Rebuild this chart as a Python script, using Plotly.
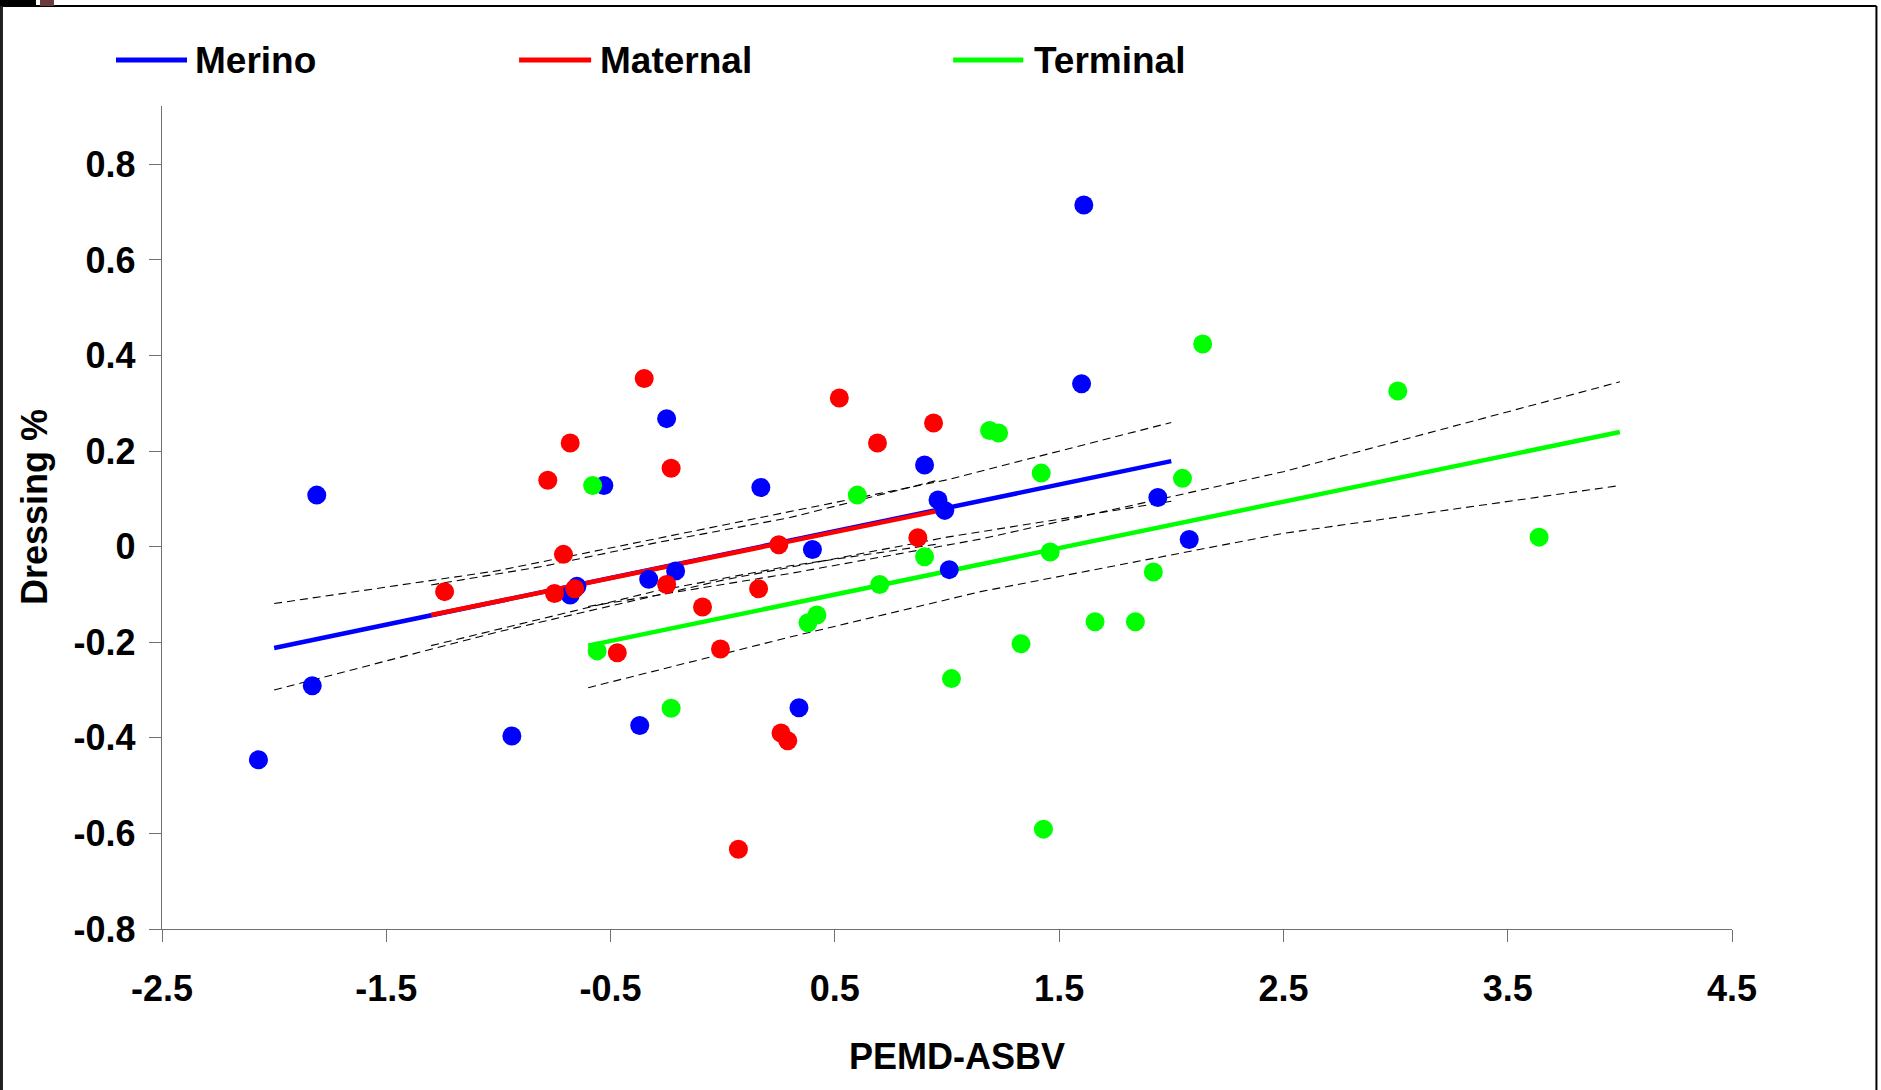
import plotly.graph_objects as go

# ---- data -------------------------------------------------------------
merino_x = [-2.07, -1.81, -1.83, -0.94, -0.68, -0.65, -0.53, -0.37, -0.33, -0.25, -0.21,
            0.17, 0.34, 0.40, 0.90, 0.96, 0.99, 1.01, 1.61, 1.60, 1.94, 2.08]
merino_y = [-0.446, 0.108, -0.291, -0.396, -0.101, -0.083, 0.128, -0.374, -0.068, 0.268, -0.051,
            0.124, -0.337, -0.006, 0.171, 0.098, 0.076, -0.048, 0.715, 0.341, 0.103, 0.015]

maternal_x = [-1.24, -0.78, -0.71, -0.75, -0.68, -0.66, -0.47, -0.35, -0.25, -0.23, -0.09,
              -0.01, 0.07, 0.16, 0.25, 0.26, 0.29, 0.52, 0.69, 0.87, 0.94]
maternal_y = [-0.094, 0.139, -0.016, -0.098, 0.217, -0.088, -0.222, 0.352, -0.079, 0.164, -0.126,
              -0.214, -0.633, -0.088, 0.004, -0.390, -0.406, 0.311, 0.217, 0.019, 0.259]

terminal_x = [-0.58, -0.56, -0.23, 0.38, 0.42, 0.60, 0.70, 0.90, 1.02, 1.19, 1.23,
              1.33, 1.42, 1.43, 1.46, 1.66, 1.84, 1.92, 2.05, 2.14, 3.01, 3.64]
terminal_y = [0.128, -0.218, -0.338, -0.159, -0.143, 0.108, -0.079, -0.021, -0.276, 0.243, 0.238,
              -0.203, 0.154, -0.591, -0.011, -0.157, -0.157, -0.053, 0.143, 0.424, 0.326, 0.020]

# fitted regression lines (end points)
merino_fit_x = [-2.0, 2.0]
merino_fit_y = [-0.212, 0.179]
maternal_fit_x = [-1.3, 0.95]
maternal_fit_y = [-0.143, 0.074]
terminal_fit_x = [-0.6, 4.0]
terminal_fit_y = [-0.207, 0.240]

# confidence bands around each fit
merino_band_x = [-2.0, -1.0, 0.0, 1.0, 2.0]
merino_upper = [-0.119, -0.050, 0.045, 0.140, 0.260]
merino_lower = [-0.300, -0.178, -0.070, 0.020, 0.095]

maternal_band_x = [-1.3, -0.8, -0.3, 0.3, 0.95]
maternal_upper = [-0.080, -0.041, 0.008, 0.061, 0.138]
maternal_lower = [-0.207, -0.150, -0.093, -0.040, 0.005]

terminal_band_x = [-0.6, 0.3, 1.15, 2.5, 4.0]
terminal_upper = [-0.125, -0.056, 0.016, 0.157, 0.345]
terminal_lower = [-0.295, -0.189, -0.094, 0.028, 0.128]

x_ticks = [-2.5, -1.5, -0.5, 0.5, 1.5, 2.5, 3.5, 4.5]
x_tick_text = ["-2.5", "-1.5", "-0.5", "0.5", "1.5", "2.5", "3.5", "4.5"]
y_ticks = [0.8, 0.6, 0.4, 0.2, 0.0, -0.2, -0.4, -0.6, -0.8]
y_tick_text = ["0.8", "0.6", "0.4", "0.2", "0", "-0.2", "-0.4", "-0.6", "-0.8"]

series_names = ["Merino", "Maternal", "Terminal"]
series_colors = ["#0000FF", "#FF0000", "#00FF00"]

# ---- layout geometry (pixels) -----------------------------------------
W, H = 1881, 1090
PL, PR, PT, PB = 162.0, 1731.6, 106.0, 928.8   # plot-area edges


def px_x(px):
    return (px - PL) / (PR - PL)


def px_y(py):
    return (PB - py) / (PB - PT)


FONT = "Liberation Sans, Arial, sans-serif"

fig = go.Figure()

# dashed confidence bands
dash_style = dict(color="#000000", width=1.1, dash="8px,5px")
for bx, by in [(merino_band_x, merino_upper), (merino_band_x, merino_lower),
               (maternal_band_x, maternal_upper), (maternal_band_x, maternal_lower),
               (terminal_band_x, terminal_upper), (terminal_band_x, terminal_lower)]:
    fig.add_trace(go.Scatter(x=bx, y=by, mode="lines", line=dash_style,
                             showlegend=False, hoverinfo="skip"))

# regression lines
for fx, fy, col in [(merino_fit_x, merino_fit_y, series_colors[0]),
                    (maternal_fit_x, maternal_fit_y, series_colors[1]),
                    (terminal_fit_x, terminal_fit_y, series_colors[2])]:
    fig.add_trace(go.Scatter(x=fx, y=fy, mode="lines",
                             line=dict(color=col, width=4.5),
                             showlegend=False, hoverinfo="skip"))

# data points
for name, xs, ys, col in [(series_names[0], merino_x, merino_y, series_colors[0]),
                          (series_names[1], maternal_x, maternal_y, series_colors[1]),
                          (series_names[2], terminal_x, terminal_y, series_colors[2])]:
    fig.add_trace(go.Scatter(x=xs, y=ys, mode="markers", name=name,
                             marker=dict(color=col, size=19, line=dict(width=0)),
                             showlegend=False))

# legend drawn as line samples + labels across the top
legend_y = 60
legend_items = [(116, 187, 195), (519, 591, 600), (953, 1023, 1034)]
shapes = []
annotations = []
for (x0, x1, tx), name, col in zip(legend_items, series_names, series_colors):
    shapes.append(dict(type="line", xref="paper", yref="paper",
                       x0=px_x(x0), x1=px_x(x1), y0=px_y(legend_y), y1=px_y(legend_y),
                       line=dict(color=col, width=5)))
    annotations.append(dict(xref="paper", yref="paper", x=px_x(tx - 2), y=px_y(legend_y + 1),
                            text=name, showarrow=False, xanchor="left", yanchor="middle",
                            font=dict(family=FONT, size=37, color="black", weight="bold")))

# axis titles
annotations.append(dict(xref="paper", yref="paper", x=px_x(957), y=px_y(1056),
                        text="PEMD-ASBV", showarrow=False, xanchor="center", yanchor="middle",
                        font=dict(family=FONT, size=36, color="black", weight="bold")))
annotations.append(dict(xref="paper", yref="paper", x=px_x(34), y=px_y(507),
                        text="Dressing %", showarrow=False, textangle=-90,
                        xanchor="center", yanchor="middle",
                        font=dict(family=FONT, size=36, color="black", weight="bold")))

# outer frame of the chart
frame = dict(color="#000000", width=2)
shapes += [
    dict(type="line", xref="paper", yref="paper", x0=px_x(0), x1=px_x(1876),
         y0=px_y(6), y1=px_y(6), line=frame),
    dict(type="line", xref="paper", yref="paper", x0=px_x(1876), x1=px_x(1876),
         y0=px_y(6), y1=px_y(1090), line=frame),
    dict(type="line", xref="paper", yref="paper", x0=px_x(1.5), x1=px_x(1.5),
         y0=px_y(6), y1=px_y(1090), line=dict(color="#202020", width=3)),
    dict(type="rect", xref="paper", yref="paper", x0=px_x(0), x1=px_x(36),
         y0=px_y(0), y1=px_y(6), fillcolor="#000000", line=dict(width=0)),
    dict(type="rect", xref="paper", yref="paper", x0=px_x(40), x1=px_x(54),
         y0=px_y(0), y1=px_y(6), fillcolor="#6b3a3a", line=dict(width=0)),
]

axis_common = dict(
    showline=True, linecolor="#707070", linewidth=1.3,
    ticks="outside", tickcolor="#707070", tickwidth=1.3, ticklen=12,
    showgrid=False, zeroline=False,
    tickfont=dict(family=FONT, size=36, color="black", weight="bold"),
)

fig.update_layout(
    width=W, height=H,
    margin=dict(l=PL, r=W - PR, t=PT, b=H - PB, pad=0),
    paper_bgcolor="white", plot_bgcolor="white",
    showlegend=False,
    xaxis=dict(range=[-2.5, 4.5], tickvals=x_ticks, ticktext=x_tick_text,
               ticklabelstandoff=16, **axis_common),
    yaxis=dict(range=[-0.8, (PB - PT) / 477.75 - 0.8], tickvals=y_ticks, ticktext=y_tick_text,
               ticklabelstandoff=6, **axis_common),
    shapes=shapes,
    annotations=annotations,
)

fig.write_html("out.html")
